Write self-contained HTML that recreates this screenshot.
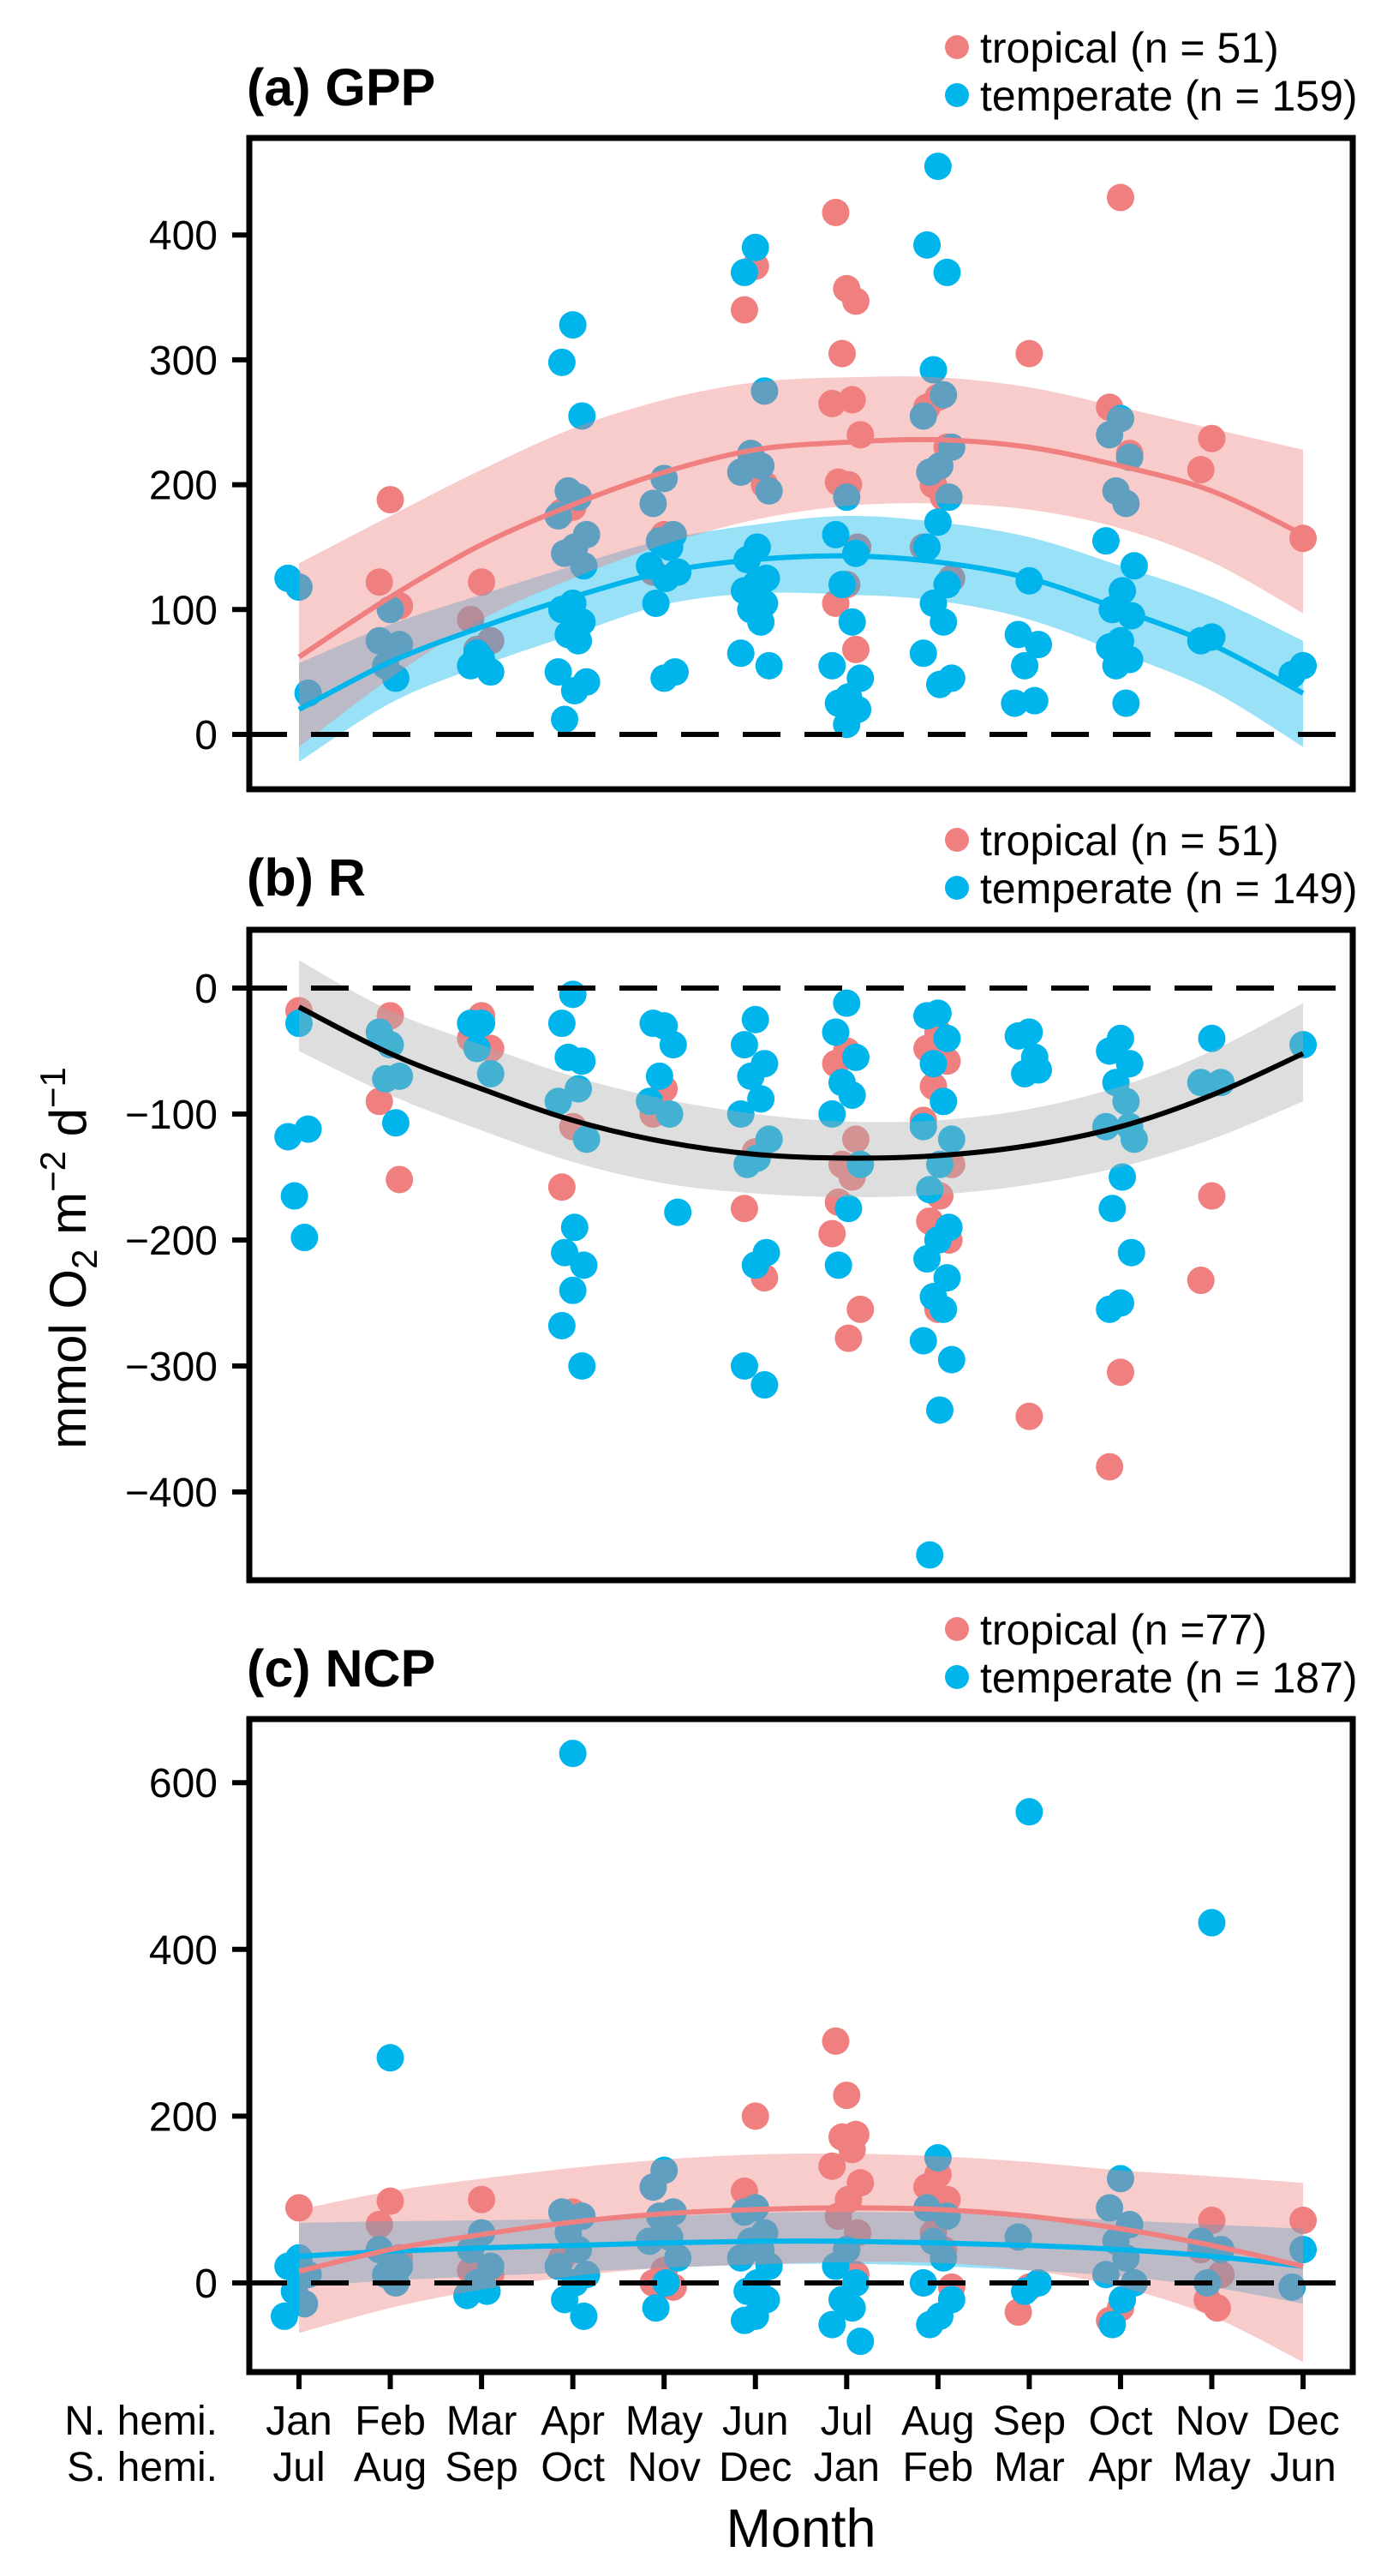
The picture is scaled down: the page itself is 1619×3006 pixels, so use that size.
<!DOCTYPE html>
<html><head><meta charset="utf-8"><title>GPP R NCP seasonal</title>
<style>html,body{margin:0;padding:0;background:#fff}svg{display:block}text{font-family:"Liberation Sans",Arial,sans-serif}</style>
</head><body>
<svg id="chart" xmlns="http://www.w3.org/2000/svg" width="1619" height="3006" viewBox="0 0 1619 3006"></svg>
<script>
// ---- data ----
const monthsN = ["Jan","Feb","Mar","Apr","May","Jun","Jul","Aug","Sep","Oct","Nov","Dec"];
const monthsS = ["Jul","Aug","Sep","Oct","Nov","Dec","Jan","Feb","Mar","Apr","May","Jun"];
const ticksA = [0,100,200,300,400];
const ticksB = [0,-100,-200,-300,-400];
const ticksC = [0,200,400,600];

const gppTrop = [[],[188,122,103],[122,92,75,68],[182,178],[160,130],[375,340,200],[357,418,347,305,268,265,240,200,202,150,120,105,68],[270,262,230,200,190,150,125],[305],[430,262,225],[237,212],[157]];
const gppTemp = [[118,125,33],[100,75,72,55,45],[60,55,50,65],[328,298,255,195,190,175,160,150,145,135,105,100,90,80,75,50,42,35,12],[205,185,160,155,150,135,130,125,105,50,45],[390,370,275,225,215,210,195,150,140,125,120,115,105,100,90,65,55],[190,160,145,120,90,55,45,30,25,20,8],[455,392,370,292,272,255,230,215,210,190,170,150,120,105,90,65,45,40],[123,80,72,55,27,25],[253,240,222,195,185,155,135,115,100,95,75,70,60,55,25],[78,75],[55,48]];
const gppTropFit = [62,110,152,184,210,228,234,236,230,215,195,160];
const gppTropHi = [137,175,212,245,268,282,286,286,278,262,245,228];
const gppTropLo = [-10,45,92,125,152,172,183,185,180,165,138,97];
const gppTempFit = [20,58,86,110,130,140,143,138,125,100,72,33];
const gppTempHi = [57,88,112,135,156,168,175,170,158,135,110,75];
const gppTempLo = [-22,25,55,80,104,113,112,107,92,65,35,-10];

const rTrop = [[-18],[-22,-90,-152],[-22,-40,-48],[-110,-158],[-80,-100],[-130,-175,-230],[-50,-60,-120,-140,-150,-195,-255,-278,-170],[-35,-48,-58,-78,-90,-105,-140,-165,-185,-200,-255],[-340],[-305,-380],[-165,-232],[]];
const rTemp = [[-28,-118,-112,-165,-198],[-45,-35,-70,-72,-107],[-28,-28,-68,-48],[-5,-28,-58,-55,-80,-90,-120,-190,-210,-220,-240,-268,-300],[-30,-28,-45,-70,-100,-90,-178],[-25,-45,-60,-70,-88,-100,-120,-135,-140,-210,-220,-300,-315],[-12,-35,-55,-75,-85,-100,-140,-175,-220],[-20,-22,-40,-60,-90,-110,-120,-140,-160,-190,-200,-215,-230,-245,-255,-280,-295,-335,-450],[-35,-38,-65,-68,-55],[-40,-50,-60,-75,-90,-110,-120,-150,-175,-210,-250,-255,-110],[-40,-75,-75],[-45]];
const rFit = [-15,-52,-80,-105,-122,-132,-135,-133,-125,-110,-85,-52];
const rHi = [22,-18,-45,-70,-88,-100,-106,-105,-96,-78,-50,-12];
const rLo = [-50,-85,-113,-138,-155,-163,-166,-164,-156,-142,-120,-90];

const ncpTrop = [[90],[98,70,30],[100,15,10],[85,30],[15,0,-5],[200,110,60],[225,290,178,175,160,140,120,100,80,60,40,20,10],[130,115,100,60,40,0,-5],[-5,-35],[-30,-45],[75,40,10,-20,-30],[75]];
const ncpTemp = [[30,20,10,-10,-25,-40],[270,40,20,10,0],[60,40,20,0,-10,-15],[635,85,80,60,40,20,10,0,-20,-40],[135,115,85,80,55,50,30,0,-30],[90,85,60,50,40,30,20,0,-10,-20,-40,-45],[40,20,0,-20,-30,-50,-70],[150,90,80,50,30,0,-20,-40,-50],[565,55,0,-10],[125,90,70,50,30,10,0,-20,-50],[432,50,40,0],[40,-5]];
const ncpTropFit = [14,40,58,73,83,88,90,88,80,65,45,20];
const ncpTropHi = [88,110,125,138,148,154,155,152,145,135,128,120];
const ncpTropLo = [-60,-30,-8,8,18,22,25,24,15,-5,-40,-95];
const ncpTempFit = [32,38,42,45,48,50,50,48,45,40,32,20];
const ncpTempHi = [72,74,75,77,80,84,85,84,80,75,70,65];
const ncpTempLo = [-5,3,8,13,18,22,23,20,15,8,-5,-25];

// ---- helpers ----
const NS = "http://www.w3.org/2000/svg";
const svg = document.getElementById("chart");
function mk(tag, attrs, parent) {
  const e = document.createElementNS(NS, tag);
  for (const k in attrs) e.setAttribute(k, attrs[k]);
  (parent || svg).appendChild(e);
  return e;
}
const X0 = 349, XSTEP = 106.55, BL = 291, BR = 1579;
function xScale(m) { return X0 + m * XSTEP; }
const jit = [0, -0.12, 0.1, -0.05, 0.06, -0.16, 0.15, 0.02, -0.09, 0.12];
const TROP = "#F08080", TEMP = "#00B4EC";

function smoothPath(pts) {
  let d = "M" + pts[0][0] + "," + pts[0][1];
  for (let i = 0; i < pts.length - 1; i++) {
    const p0 = pts[Math.max(0, i - 1)], p1 = pts[i], p2 = pts[i + 1], p3 = pts[Math.min(pts.length - 1, i + 2)];
    const c1x = p1[0] + (p2[0] - p0[0]) / 6, c1y = p1[1] + (p2[1] - p0[1]) / 6;
    const c2x = p2[0] - (p3[0] - p1[0]) / 6, c2y = p2[1] - (p3[1] - p1[1]) / 6;
    d += " C" + c1x + "," + c1y + " " + c2x + "," + c2y + " " + p2[0] + "," + p2[1];
  }
  return d;
}
function ribbonPath(hi, lo, y) {
  const top = hi.map((v, i) => [xScale(i), y(v)]);
  const bot = lo.map((v, i) => [xScale(i), y(v)]).reverse();
  let d = smoothPath(top);
  d += " L" + bot[0][0] + "," + bot[0][1];
  d += smoothPath(bot).replace(/^M[^C]*/, " ");
  return d + " Z";
}

function panel(cfg) {
  const g = mk("g", {});
  
  
  const y = v => cfg.y0 - v * cfg.ppu;
  // title
  const t = mk("text", {x: 288, y: cfg.titleY, "font-size": 61, "font-weight": "bold"}, g);
  t.textContent = cfg.title;
  
  
  // legend
  cfg.legend.forEach((lab, i) => {
    const ly = cfg.legY + i * 56;
    const c = mk("circle", {cx: 1117, cy: ly, r: 14, fill: i === 0 ? TROP : TEMP}, g);
    
    
    const lt = mk("text", {x: 1144, y: ly + 18, "font-size": 50}, g);
    lt.textContent = lab;
    
    
  });
  // y ticks
  cfg.ticks.forEach(v => {
    const tk = mk("line", {x1: 271, x2: BL, y1: y(v), y2: y(v), stroke: "#000", "stroke-width": 6}, g);
    
    
    const tl = mk("text", {x: 254, y: y(v) + 17, "font-size": 48, "text-anchor": "end"}, g);
    tl.textContent = v < 0 ? "\u2212" + Math.abs(v) : String(v);
    
    
  });
  // clip
  const cid = "clip-" + cfg.name;
  const cp = mk("clipPath", {id: cid}, g);
  mk("rect", {x: BL, y: cfg.top, width: BR - BL, height: cfg.bottom - cfg.top}, cp);
  const inner = mk("g", {"clip-path": "url(#" + cid + ")"}, g);
  // points
  const drawPts = (arr, color, nm) => {
    arr.forEach((vals, m) => vals.forEach((v, i) => {
      const c = mk("circle", {cx: xScale(m + jit[i % jit.length]), cy: y(v), r: 16, fill: color}, inner);
      
      
    }));
  };
  drawPts(cfg.trop, TROP, 'point-tropical');
  drawPts(cfg.temp, TEMP, 'point-temperate');
  // ribbons and fits
  cfg.fits.forEach(f => {
    const r = mk("path", {d: ribbonPath(f.hi, f.lo, y), fill: f.rib, "fill-opacity": 0.4, stroke: "none"}, inner);
    
    
  });
  cfg.fits.forEach(f => {
    const l = mk("path", {d: smoothPath(f.fit.map((v, i) => [xScale(i), y(v)])), fill: "none", stroke: f.line, "stroke-width": 6}, inner);
    
    
  });
  // zero line
  const z = mk("line", {x1: BL, x2: BR, y1: y(0), y2: y(0), stroke: "#000", "stroke-width": 6, "stroke-dasharray": "44 28"}, inner);
  
  
  // box
  const b = mk("rect", {x: BL, y: cfg.top, width: BR - BL, height: cfg.bottom - cfg.top, fill: "none", stroke: "#000", "stroke-width": 7}, g);
  
  
}

panel({name: "panel-gpp", title: "(a) GPP", titleY: 123, legY: 55, legend: ["tropical (n = 51)", "temperate (n = 159)"],
  top: 161, bottom: 921, y0: 857, ppu: 1.457, ticks: ticksA, trop: gppTrop, temp: gppTemp,
  fits: [{name: "temperate", hi: gppTempHi, lo: gppTempLo, fit: gppTempFit, rib: TEMP, line: TEMP},
         {name: "tropical", hi: gppTropHi, lo: gppTropLo, fit: gppTropFit, rib: TROP, line: TROP}]});
panel({name: "panel-r", title: "(b) R", titleY: 1045, legY: 980, legend: ["tropical (n = 51)", "temperate (n = 149)"],
  top: 1085, bottom: 1844, y0: 1153, ppu: 1.47, ticks: ticksB, trop: rTrop, temp: rTemp,
  fits: [{name: "overall", hi: rHi, lo: rLo, fit: rFit, rib: "#adadad", line: "#000"}]});
panel({name: "panel-ncp", title: "(c) NCP", titleY: 1968, legY: 1901, legend: ["tropical (n =77)", "temperate (n = 187)"],
  top: 2006, bottom: 2768, y0: 2664, ppu: 0.973, ticks: ticksC, trop: ncpTrop, temp: ncpTemp,
  fits: [{name: "temperate", hi: ncpTempHi, lo: ncpTempLo, fit: ncpTempFit, rib: TEMP, line: TEMP},
         {name: "tropical", hi: ncpTropHi, lo: ncpTropLo, fit: ncpTropFit, rib: TROP, line: TROP}]});

// x axis
monthsN.forEach((m, i) => {
  const x = xScale(i);
  const tk = mk("line", {x1: x, x2: x, y1: 2768, y2: 2788, stroke: "#000", "stroke-width": 6});
  
  
  const a = mk("text", {x: x, y: 2841, "font-size": 48, "text-anchor": "middle"});
  a.textContent = m;
  
  
  const b = mk("text", {x: x, y: 2895, "font-size": 48, "text-anchor": "middle"});
  b.textContent = monthsS[i];
  
  
});
const nh = mk("text", {x: 254, y: 2841, "font-size": 48, "text-anchor": "end"});
nh.textContent = "N. hemi.";


const sh = mk("text", {x: 254, y: 2895, "font-size": 48, "text-anchor": "end"});
sh.textContent = "S. hemi.";


const xt = mk("text", {x: 935, y: 2972, "font-size": 63, "text-anchor": "middle"});
xt.textContent = "Month";



// y axis title
const yt = mk("text", {x: 0, y: 0, "font-size": 60, "text-anchor": "middle", transform: "translate(100,1468) rotate(-90)"});


yt.innerHTML = 'mmol O<tspan font-size="42" dy="13">2</tspan><tspan dy="-13"> m</tspan><tspan font-size="42" dy="-24">\u22122</tspan><tspan dy="24"> d</tspan><tspan font-size="42" dy="-24">\u22121</tspan>';
</script>
</body></html>
